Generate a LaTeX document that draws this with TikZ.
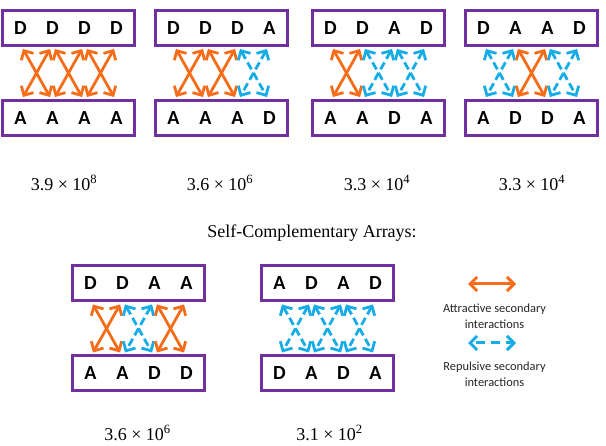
\documentclass[tikz,border=0pt]{standalone}
\usepackage{fontspec}
\setmainfont{Liberation Serif}
\newfontfamily\calfont{Carlito}
\usetikzlibrary{arrows.meta,calc}
\definecolor{aorange}{RGB}{247,108,24}
\definecolor{rblue}{RGB}{22,172,232}
\definecolor{bpurple}{RGB}{112,48,160}
\tikzset{
  panelbox/.style={draw=bpurple, line width=3pt, minimum width=132pt, minimum height=35pt, inner sep=0pt},
  letter/.style={font=\calfont\bfseries\fontsize{20}{24}\selectfont, inner sep=0pt},
  attr/.style={draw=aorange, line width=2.8pt, {Straight Barb[length=7pt, width=14pt]}-{Straight Barb[length=7pt, width=14pt]}},
  rep/.style={draw=rblue, line width=2.8pt, dash pattern=on 8pt off 4pt, {Straight Barb[length=7pt, width=14pt]}-{Straight Barb[length=7pt, width=14pt]}},
  valuetext/.style={font=\fontsize{18}{21}\selectfont, inner sep=0pt},
  legendtext/.style={font=\calfont\fontsize{12.4}{15.5}\selectfont, align=center, text=black!85, inner sep=0pt}
}
\newcommand\arraypanel[6]{%
  \node[panelbox] (#1t) at (#2,#3) {};
  \node[panelbox] (#1b) at (#2,#3+90) {};
  \foreach \l [count=\i] in {#4} \node[letter] (#1t\i) at (#2-80+32*\i,#3) {\l};
  \foreach \l [count=\i] in {#5} \node[letter] (#1b\i) at (#2-80+32*\i,#3+90) {\l};
  \foreach \s [count=\i] in {#6} {
    \coordinate (#1tl\i) at (#2-48+32*\i-32+2.5,#3+21);
    \coordinate (#1tr\i) at (#2-48+32*\i-2.5,#3+21);
    \coordinate (#1bl\i) at (#2-48+32*\i-32+2.5,#3+69);
    \coordinate (#1br\i) at (#2-48+32*\i-2.5,#3+69);
    \draw[\s] (#1tl\i) -- (#1br\i);
    \draw[\s] (#1tr\i) -- (#1bl\i);
  }
}
\begin{document}
\begin{tikzpicture}[x=1pt,y=-1pt]
\useasboundingbox (0,0) rectangle (606,446);
\arraypanel{p1}{68.5}{28}{D,D,D,D}{A,A,A,A}{attr,attr,attr}
\arraypanel{p2}{221.5}{28}{D,D,D,A}{A,A,A,D}{attr,attr,rep}
\arraypanel{p3}{378.5}{28}{D,D,A,D}{A,A,D,A}{attr,rep,rep}
\arraypanel{p4}{531.5}{28}{D,A,A,D}{A,D,D,A}{rep,attr,rep}
\arraypanel{p5}{138.5}{283.5}{D,D,A,A}{A,A,D,D}{attr,rep,attr}
\arraypanel{p6}{327.5}{283.5}{A,D,A,D}{D,A,D,A}{rep,rep,rep}
\node[valuetext] (v1) at (64,183) {3.9 × 10\textsuperscript{8}};
\node[valuetext] (v2) at (220,183) {3.6 × 10\textsuperscript{6}};
\node[valuetext] (v3) at (377,183) {3.3 × 10\textsuperscript{4}};
\node[valuetext] (v4) at (532,183) {3.3 × 10\textsuperscript{4}};
\node[valuetext] (title) at (312,233) {Self-Complementary Arrays:};
\node[valuetext] (v5) at (137.5,433) {3.6 × 10\textsuperscript{6}};
\node[valuetext] (v6) at (329.5,433) {3.1 × 10\textsuperscript{2}};
\coordinate (la1) at (468,284);
\coordinate (la2) at (516,284);
\draw[attr, line width=3pt] (la1) -- (la2);
\node[legendtext] (lt1) at (494.5,316) {Attractive secondary\\interactions};
\coordinate (lb1) at (468,343);
\coordinate (lb2) at (516,343);
\draw[rep, line width=3pt, dash pattern=on 9pt off 6pt, dash phase=-4pt] (lb1) -- (lb2);
\node[legendtext] (lt2) at (494.5,374) {Repulsive secondary\\interactions};
\end{tikzpicture}
\end{document}
